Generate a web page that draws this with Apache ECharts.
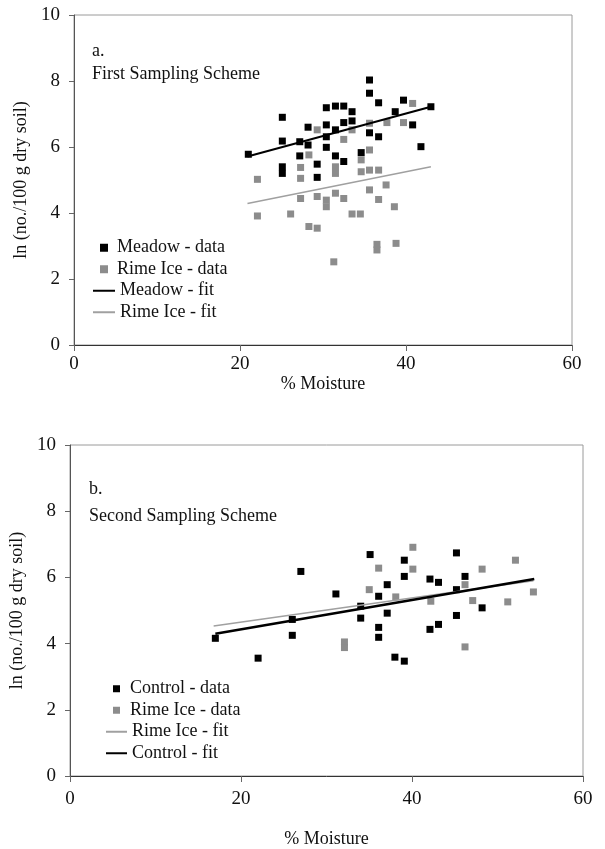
<!DOCTYPE html>
<html>
<head>
<meta charset="utf-8">
<script src="https://cdn.jsdelivr.net/npm/echarts@6/dist/echarts.min.js"></script>
<style>
  html, body { margin: 0; padding: 0; background: #fff; }
  #chart { width: 605px; height: 849px; }
</style>
</head>
<body>
<div id="chart"></div>
<script>
// a. First sampling scheme  [% moisture, ln count]
var meadowData = [
  [21.0, 5.78], [25.1, 6.9], [25.1, 6.18], [25.1, 5.4], [25.1, 5.2], [27.2, 6.16], [27.2, 5.73],
  [28.2, 6.6], [28.2, 6.06], [29.3, 5.48], [29.3, 5.08], [30.4, 7.19], [30.4, 6.67], [30.4, 6.31],
  [30.4, 5.99], [31.5, 7.24], [31.5, 6.52], [31.5, 5.73], [32.5, 7.24], [32.5, 6.74], [32.5, 5.56],
  [33.5, 7.07], [33.5, 6.79], [34.6, 5.83], [35.6, 8.03], [35.6, 7.63], [35.6, 6.43], [36.7, 7.34],
  [36.7, 6.31], [38.7, 7.07], [39.7, 7.42], [40.8, 6.67], [41.8, 6.01], [43.0, 7.22]
]
var rimeData1 = [
  [22.1, 5.02], [22.1, 3.91], [26.1, 3.97], [27.3, 5.38], [27.3, 5.05], [27.3, 4.44], [28.3, 5.76],
  [28.3, 3.59], [29.3, 6.52], [29.3, 3.54], [29.3, 4.5], [30.4, 4.39], [30.4, 4.19], [31.5, 5.4],
  [31.5, 5.2], [31.5, 4.6], [32.5, 6.23], [32.5, 4.44], [33.5, 6.52], [33.5, 3.97], [34.5, 3.97],
  [34.6, 5.61], [35.6, 6.72], [34.6, 5.25], [35.6, 5.3], [36.7, 5.3], [35.6, 5.91], [35.6, 4.7],
  [36.7, 4.41], [37.6, 4.85], [37.7, 6.74], [38.6, 4.19], [39.7, 6.74], [40.8, 7.32], [36.5, 3.05],
  [36.5, 2.88], [38.8, 3.08], [31.3, 2.52]
]
var meadowFit = [[20.9, 5.71], [43.0, 7.22]]
var rimeFit1 = [[20.9, 4.29], [43.0, 5.4]]

// b. Second sampling scheme
var controlData = [
  [17.0, 4.16], [22.0, 3.56], [26.0, 4.73], [26.0, 4.25], [27.0, 6.18], [31.1, 5.5], [34.0, 5.13],
  [34.0, 4.77], [35.1, 6.69], [36.1, 5.43], [36.1, 4.49], [36.1, 4.19], [37.1, 5.78], [37.1, 4.92],
  [38.0, 3.59], [39.1, 3.47], [39.1, 6.52], [39.1, 6.03], [42.1, 5.95], [42.1, 4.43], [43.1, 5.85],
  [43.1, 4.58], [45.2, 6.74], [45.2, 5.63], [45.2, 4.85], [46.2, 6.03], [48.2, 5.08]
]
var rimeData2 = [
  [32.1, 4.05], [32.1, 3.88], [35.0, 5.63], [36.1, 6.28], [40.1, 6.91], [40.1, 6.25], [38.1, 5.41],
  [42.2, 5.28], [46.2, 5.78], [46.2, 3.9], [47.1, 5.3], [48.2, 6.25], [51.2, 5.26], [52.1, 6.52],
  [54.2, 5.56]
]
var rimeFit2 = [[16.8, 4.53], [54.2, 5.9]]
var controlFit = [[17.0, 4.3], [54.3, 5.95]]

var font = 'Liberation Serif'
var yName = 'ln (no./100 g dry soil)'
var xName = '% Moisture'
var black = '#000'
var gray = '#8c8c8c'
var lightGray = '#a0a0a0'

var chartDom = document.getElementById('chart')
var myChart = echarts.init(chartDom)
var option

var axisX = function (idx, nameGap, labelMargin) {
  return {
    gridIndex: idx,
    type: 'value',
    min: 0,
    max: 60,
    interval: 20,
    name: xName,
    nameLocation: 'middle',
    nameGap: nameGap,
    nameTextStyle: { fontFamily: font, fontSize: 18, color: '#111' },
    axisLine: { lineStyle: { color: '#333', width: 1 } },
    axisTick: { length: 6, lineStyle: { color: '#666' } },
    axisLabel: { fontFamily: font, fontSize: 19, color: '#111', margin: labelMargin },
    splitLine: { show: false }
  }
}
var axisY = function (idx, nameGap) {
  return {
    gridIndex: idx,
    type: 'value',
    min: 0,
    max: 10,
    interval: 2,
    name: yName,
    nameLocation: 'middle',
    nameGap: nameGap,
    nameTextStyle: { fontFamily: font, fontSize: 18, color: '#111' },
    axisLine: { lineStyle: { color: '#555', width: 1 } },
    axisTick: { length: 5, lineStyle: { color: '#666' } },
    axisLabel: { fontFamily: font, fontSize: 19, color: '#111', margin: 14 },
    splitLine: { show: false }
  }
}
var legendText = function (pad) {
  return { fontFamily: font, fontSize: 18, color: '#111', lineHeight: 21.5, padding: [0, 0, 0, pad] }
}
// line legend entries drawn as thin bars
var fitItem = function (name, color) {
  return { name: name, icon: 'rect', itemStyle: { color: color, borderWidth: 0 } }
}

option = {
  animation: false,
  title: [
    {
      text: 'a.\nFirst Sampling Scheme',
      left: 92, top: 40, padding: 0,
      textStyle: { fontFamily: font, fontSize: 18, fontWeight: 'normal', color: '#111', lineHeight: 23 }
    },
    {
      text: 'b.\nSecond Sampling Scheme',
      left: 89, top: 476, padding: 0,
      textStyle: { fontFamily: font, fontSize: 18, fontWeight: 'normal', color: '#111', lineHeight: 27 }
    }
  ],
  legend: [
    {
      data: ['Meadow - data', 'Rime Ice - data'],
      orient: 'vertical', left: 100, top: 237, padding: 0, itemGap: 0,
      itemWidth: 8, itemHeight: 8, textStyle: legendText(4)
    },
    {
      data: [fitItem('Meadow - fit', black), fitItem('Rime Ice - fit', lightGray)],
      orient: 'vertical', left: 93, top: 280, padding: 0, itemGap: 0,
      itemWidth: 22, itemHeight: 2, textStyle: legendText(0)
    },
    {
      data: ['Control - data', 'Rime Ice - data'],
      orient: 'vertical', left: 113, top: 678, padding: 0, itemGap: 0,
      itemWidth: 7, itemHeight: 7, textStyle: legendText(5)
    },
    {
      data: [fitItem('Rime Ice - fit', lightGray), fitItem('Control - fit', black)],
      orient: 'vertical', left: 106, top: 721, padding: 0, itemGap: 0,
      itemWidth: 21, itemHeight: 2, textStyle: legendText(0)
    }
  ],
  grid: [
    { left: 74, right: 33, top: 15, height: 330, show: true, borderColor: '#9a9a9a', borderWidth: 1 },
    { left: 70, right: 22, top: 445, height: 332, show: true, borderColor: '#9a9a9a', borderWidth: 1 }
  ],
  xAxis: [axisX(0, 30, 10), axisX(1, 54, 14)],
  yAxis: [axisY(0, 36), axisY(1, 33)],
  series: [
    {
      name: 'Meadow - data', type: 'scatter', xAxisIndex: 0, yAxisIndex: 0,
      symbol: 'rect', symbolSize: 7, itemStyle: { color: black, opacity: 1 }, data: meadowData
    },
    {
      name: 'Rime Ice - data', type: 'scatter', xAxisIndex: 0, yAxisIndex: 0,
      symbol: 'rect', symbolSize: 7, itemStyle: { color: gray, opacity: 1 }, data: rimeData1, z: 1
    },
    {
      name: 'Meadow - fit', type: 'line', xAxisIndex: 0, yAxisIndex: 0, symbol: 'none',
      itemStyle: { color: black }, lineStyle: { color: black, width: 2 }, data: meadowFit, z: 3
    },
    {
      name: 'Rime Ice - fit', type: 'line', xAxisIndex: 0, yAxisIndex: 0, symbol: 'none',
      itemStyle: { color: lightGray }, lineStyle: { color: lightGray, width: 1.5 }, data: rimeFit1, z: 3
    },
    {
      name: 'Control - data', type: 'scatter', xAxisIndex: 1, yAxisIndex: 1,
      symbol: 'rect', symbolSize: 7, itemStyle: { color: black, opacity: 1 }, data: controlData
    },
    {
      name: 'Rime Ice - data', type: 'scatter', xAxisIndex: 1, yAxisIndex: 1,
      symbol: 'rect', symbolSize: 7, itemStyle: { color: gray, opacity: 1 }, data: rimeData2, z: 1
    },
    {
      name: 'Rime Ice - fit', type: 'line', xAxisIndex: 1, yAxisIndex: 1, symbol: 'none',
      itemStyle: { color: lightGray }, lineStyle: { color: lightGray, width: 1.5 }, data: rimeFit2, z: 3
    },
    {
      name: 'Control - fit', type: 'line', xAxisIndex: 1, yAxisIndex: 1, symbol: 'none',
      itemStyle: { color: black }, lineStyle: { color: black, width: 2.5 }, data: controlFit, z: 4
    }
  ]
}

option && myChart.setOption(option)
</script>
</body>
</html>
